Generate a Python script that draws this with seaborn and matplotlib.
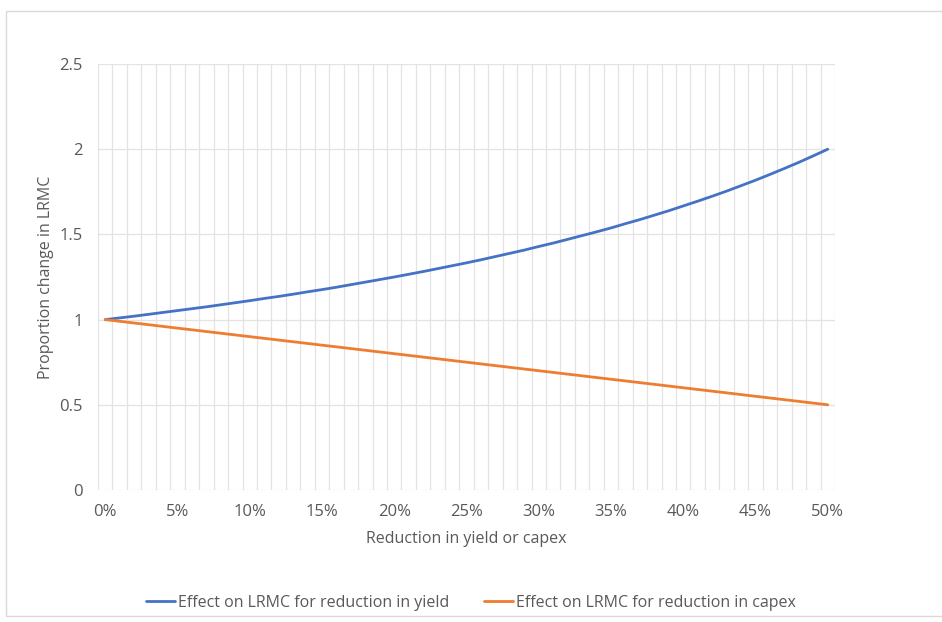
import matplotlib
matplotlib.use("Agg")
import matplotlib.pyplot as plt
import matplotlib.patches as mpatches
import seaborn as sns
import pandas as pd

# reduction steps 0% .. 50%
categories = [f"{i}%" for i in range(51)]

yield_effect = [1.000, 1.010, 1.020, 1.031, 1.042, 1.053, 1.064, 1.075, 1.087, 1.099,
                1.111, 1.124, 1.136, 1.149, 1.163, 1.176, 1.190, 1.205, 1.220, 1.235,
                1.250, 1.266, 1.282, 1.299, 1.316, 1.333, 1.351, 1.370, 1.389, 1.408,
                1.429, 1.449, 1.471, 1.493, 1.515, 1.538, 1.563, 1.587, 1.613, 1.639,
                1.667, 1.695, 1.724, 1.754, 1.786, 1.818, 1.852, 1.887, 1.923, 1.961,
                2.000]

capex_effect = [1.00, 0.99, 0.98, 0.97, 0.96, 0.95, 0.94, 0.93, 0.92, 0.91,
                0.90, 0.89, 0.88, 0.87, 0.86, 0.85, 0.84, 0.83, 0.82, 0.81,
                0.80, 0.79, 0.78, 0.77, 0.76, 0.75, 0.74, 0.73, 0.72, 0.71,
                0.70, 0.69, 0.68, 0.67, 0.66, 0.65, 0.64, 0.63, 0.62, 0.61,
                0.60, 0.59, 0.58, 0.57, 0.56, 0.55, 0.54, 0.53, 0.52, 0.51,
                0.50]

series_names = ["Effect on LRMC for reduction in yield",
                "Effect on LRMC for reduction in capex"]
y_ticks = [0, 0.5, 1, 1.5, 2, 2.5]
y_tick_labels = ["0", "0.5", "1", "1.5", "2", "2.5"]

df = pd.DataFrame({
    "pos": list(range(len(categories))) * 2,
    "value": yield_effect + capex_effect,
    "series": [series_names[0]] * len(categories) + [series_names[1]] * len(categories),
})

sns.set_theme(style="white")
plt.rcParams["font.family"] = ["Open Sans", "DejaVu Sans"]
txt = "#595959"
grid = "#e3e3e3"

fig = plt.figure(figsize=(9.42, 6.22), dpi=100)
ax = fig.add_axes([98 / 942, 1 - 490 / 622, (835 - 98) / 942, (490 - 64) / 622])

# chart-area border
fig.patches.append(mpatches.Rectangle((6 / 942, 6 / 622), 1.2, 1 - 17 / 622,
                                      transform=fig.transFigure, fill=False,
                                      edgecolor="#d9d9d9", linewidth=1))

sns.lineplot(data=df, x="pos", y="value", hue="series", ax=ax,
             palette=["#4472C4", "#ED7D31"], linewidth=2, legend=False)

n = len(categories)
ax.set_xlim(-0.5, n - 0.5)
ax.set_ylim(0, 2.5)

# vertical grid at category boundaries
for b in range(n + 1):
    ax.axvline(b - 0.5, color=grid, linewidth=0.9, zorder=0)
for yv in y_ticks:
    ax.axhline(yv, color=grid, linewidth=0.9, zorder=0)

ax.set_xticks(list(range(0, n, 5)))
ax.set_xticklabels([categories[i] for i in range(0, n, 5)])
ax.set_yticks(y_ticks)
ax.set_yticklabels(y_tick_labels)
ax.tick_params(axis="both", colors=txt, labelsize=12, length=0)
ax.tick_params(axis="x", pad=10)
ax.tick_params(axis="y", pad=11)
for s in ax.spines.values():
    s.set_visible(False)

ax.set_xlabel("Reduction in yield or capex", color=txt, fontsize=11.5, labelpad=8)
ax.set_ylabel("Proportion change in LRMC", color=txt, fontsize=11.5, labelpad=4)

handles = [plt.Line2D([], [], color="#4472C4", linewidth=2),
           plt.Line2D([], [], color="#ED7D31", linewidth=2)]
fig.legend(handles, series_names, loc="center", bbox_to_anchor=(0.5, 1 - 603 / 622),
           ncol=2, frameon=False, fontsize=11.5, labelcolor=txt, handlelength=1.8,
           handletextpad=0.2, columnspacing=2.2)

fig.savefig("out.png", dpi=100)
